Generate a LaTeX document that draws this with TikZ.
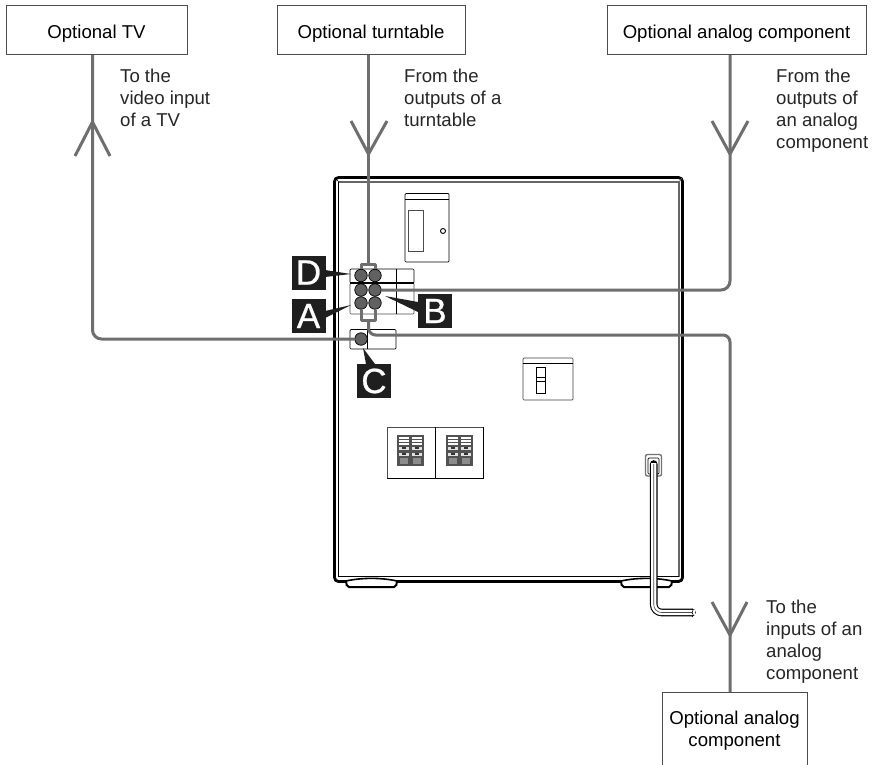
\documentclass[tikz,border=0pt]{standalone}
\usepackage{fontspec}
\setmainfont{Liberation Sans}
\newfontfamily\tagfont[FakeBold=0.7]{Liberation Sans}
\definecolor{wire}{gray}{0.43}
\definecolor{tagk}{gray}{0.12}
\definecolor{boxline}{gray}{0.3}
\tikzset{
 x=1pt,y=-1pt,
 box/.style={draw=boxline,line width=1pt,fill=white,inner sep=0pt,font=\fontsize{18.6}{22}\selectfont,align=center},
 topbox/.style={box,minimum height=49pt,text height=19.5pt,text depth=4pt},
 note/.style={anchor=north west,inner sep=0pt,text=black!85,font=\fontsize{18.6}{21.8}\selectfont,align=left},
 wireline/.style={draw=wire,line width=3pt,line join=round},
 jack/.style={circle,draw=black,line width=0.7pt,fill=black!62,minimum size=12.5pt,inner sep=0pt},
 tagbox/.style={fill=tagk,text=white,minimum size=34pt,inner sep=0pt,font=\tagfont\fontsize{35}{35}\selectfont},
 thinline/.style={draw=black,line width=0.7pt},
}
\begin{document}
\begin{tikzpicture}
\useasboundingbox (0,0) rectangle (875,765);
\fill[white] (0,0) rectangle (875,765);
% case
\draw[black,line width=2.8pt,rounded corners=4pt] (334.5,177.5) -- (682.5,177.5) -- (682.5,581.5) -- (334.5,581.5) -- cycle;
\draw[black!60,line width=1.2pt] (338.5,182) -- (679,182) -- (679,576.5);
\draw[black,line width=1.1pt] (338.5,182) -- (338.5,576.5) -- (679,576.5);
\draw[black,line width=0.6pt] (335,178) -- (339,182);
\draw[black!60,line width=0.6pt] (682,178) -- (679,182);
% feet
\fill[white] (346,580) rectangle (397,587);
\fill[white] (621,580) rectangle (672,587);
\draw[black,line width=2pt,rounded corners=2pt] (346,581) -- (347,587) -- (396,587) -- (397,581);
\draw[black,line width=2pt,rounded corners=2pt] (621,581) -- (622,587) -- (671,587) -- (672,581);
\draw[black,line width=1.6pt] (346,581) .. controls (362,577.5) and (381,577.5) .. (397,581);
\draw[black,line width=1.6pt] (621,581) .. controls (637,577.5) and (656,577.5) .. (672,581);
% top panel
\draw[thinline,rounded corners=1pt] (405,193.5) rectangle (449,262);
\draw[thinline,line width=1pt] (405,199) -- (449,199);
\draw[thinline,draw=black!70] (408,210) rectangle (423,251);
\draw[thinline,line width=0.9pt] (443,231) circle (2.5);
% jack panels
\draw[thinline,rounded corners=1pt] (350,269) rectangle (414,283);
\draw[thinline,rounded corners=1pt,draw=black!70] (350,283) rectangle (414,314);
\draw[black,line width=1.4pt] (350,283) -- (414,283);
\draw[thinline] (396,269) -- (396,314);
\draw[thinline,rounded corners=1pt] (350,329.5) rectangle (396,349);
\draw[thinline] (367,329.5) -- (367,349);
% switch
\draw[thinline,draw=black!75,rounded corners=1pt] (523,358) rectangle (573,400);
\draw[thinline] (523,363) -- (573,363);
\draw[thinline] (536,367) rectangle (545,393);
\draw[thinline,line width=1pt,fill=white] (536,377.5) rectangle (545,381);
% speaker panels
\draw[thinline,draw=black!70] (387,478.5) -- (387,427) -- (483,427);
\draw[thinline] (483,427) -- (483,478.5) -- (387,478.5);
\draw[thinline] (435,427) -- (435,478.5);
\foreach \xx in {397,446}{
 \fill[black!68] (\xx,435) rectangle (\xx+27,465.5);
 \foreach \cc in {2,15}{
  \foreach \yy in {437,440,443}{
   \fill[white] (\xx+\cc,\yy) rectangle (\xx+\cc+10,\yy+1.6);
  }
  \fill[white!88!black] (\xx+\cc,446.5) rectangle (\xx+\cc+10,450);
  \fill[black!80] (\xx+\cc+3,447.3) rectangle (\xx+\cc+7,449.2);
  \fill[white!88!black] (\xx+\cc,452.5) rectangle (\xx+\cc+10,456);
  \fill[black!80] (\xx+\cc+3,453.3) rectangle (\xx+\cc+7,455.2);
  \fill[black!45] (\xx+\cc+1,458) rectangle (\xx+\cc+9,464);
 }
}
% jacks
\node[jack] (j1) at (361,275.5) {};
\node[jack] (j2) at (375,275.5) {};
\node[jack] (j3) at (361,290) {};
\node[jack] (j4) at (375,290) {};
\node[jack] (j5) at (361,303) {};
\node[jack] (j6) at (375,303) {};
\node[jack] (j7) at (361,339) {};
% boxes
\node[topbox,minimum width=181pt] (tv) at (96.5,30.5) {Optional TV};
\node[topbox,minimum width=188pt] (tt) at (371,30.5) {Optional turntable};
\node[topbox,minimum width=259pt] (an) at (736.5,30.5) {Optional analog component};
\node[box,minimum width=145pt,minimum height=77pt] (an2) at (734.5,730.5) {Optional analog\\component};
\coordinate (tvs) at (92.5,55);
\coordinate (tts) at (368.5,55);
\coordinate (ans) at (730,55);
\coordinate (ane) at (730,692);
% wires
\draw[wireline,rounded corners=9pt] (tvs) -- (92.5,339) -- (j7.west);
\draw[wireline] (tts) -- (368.5,264.5);
\draw[wireline] (j1.north) -- (361,264.5) -- (375,264.5) -- (j2.north);
\draw[wireline] (j5.south) -- (361,320.5) -- (375,320.5) -- (j6.south);
\draw[wireline,rounded corners=7pt] (368.5,320.5) -- (368.5,335) -- (730,335) -- (ane);
\draw[wireline,rounded corners=9pt] (ans) -- (730,290) -- (j4.east);
% arrows
\draw[wireline] (75,156) -- (92.5,122) -- (110,156);
\draw[wireline] (351,121) -- (368.5,154) -- (387,121);
\draw[wireline] (712,121) -- (730,154) -- (748,121);
\draw[wireline] (712,602) -- (730,635) -- (747,602);
% cord
\draw[thinline,draw=black!55,line width=1.4pt,fill=white,rounded corners=2pt] (645.5,454.5) rectangle (661.5,476);
\draw[thinline,rounded corners=1pt] (648,458) rectangle (659,474);
\draw[black,line width=7.6pt,rounded corners=8pt,line cap=round] (653.7,464) -- (653.7,612.5) -- (692,612.5);
\draw[white,line width=5.4pt,rounded corners=8pt] (653.7,463) -- (653.7,612.5) -- (695,612.5);
\draw[black!70,line width=0.6pt,rounded corners=8pt] (653.7,464) -- (653.7,612.5) -- (692,612.5);
\draw[black,line width=0.6pt] (692,608.5) .. controls (695,610.5) and (690,612.5) .. (693,614) .. controls (695,615) and (692,616) .. (692,617);
% tags
\node[tagbox] (ta) at (308.5,272.5) {D};
\node[tagbox] (tb) at (308.5,316) {A};
\node[tagbox] (tc) at (435,311) {B};
\node[tagbox] (td) at (374,381) {C};
\fill[tagk] (325,270) -- (351,274) -- (325,277) -- cycle;
\fill[tagk] (325,311) -- (351,305) -- (325,318) -- cycle;
\fill[tagk] (418,302) -- (385,296) -- (418,312) -- cycle;
\fill[tagk] (366,364) -- (363,348) -- (375,364) -- cycle;
% notes
\node[note] (n1) at (120,69) {To the\\video input\\of a TV};
\node[note] (n2) at (404,69) {From the\\outputs of a\\turntable};
\node[note] (n3) at (776,69) {From the\\outputs of\\an analog\\component};
\node[note] (n4) at (766,600) {To the\\inputs of an\\analog\\component};
\end{tikzpicture}
\end{document}
